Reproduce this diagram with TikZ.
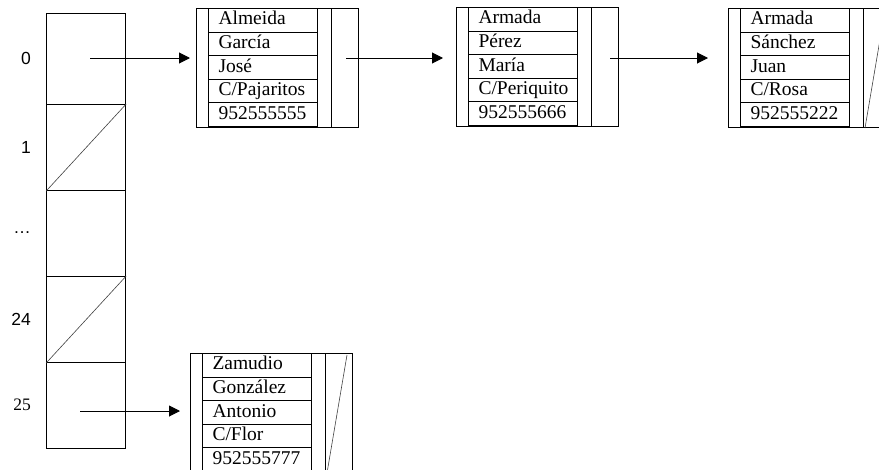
\documentclass[tikz,border=0pt]{standalone}
\usepackage{fontspec}
\setmainfont{Liberation Serif}
\newfontfamily\idxfont{Liberation Sans}
\usetikzlibrary{arrows.meta}

\tikzset{
    cell/.style={draw, line width=1.2pt, minimum width=79pt, anchor=north west, inner sep=0pt},
    idx/.style={anchor=east, inner sep=0pt, font=\idxfont\fontsize{17.5}{17.5}\selectfont},
    rec/.style={draw, line width=1pt, minimum width=162pt, minimum height=119pt, anchor=north west, inner sep=0pt},
    ptr/.style={draw, line width=1pt, minimum width=27pt, minimum height=119pt, anchor=north east, inner sep=0pt},
    field/.style={draw, line width=1pt, text width=89pt, inner xsep=10pt, inner ysep=0pt, minimum height=23.6pt,
        text height=13pt, text depth=4pt, align=left, anchor=north west, font=\fontsize{19.5}{19.5}\selectfont},
    link/.style={line width=1pt, -{Triangle[length=11pt,width=11pt]}},
    null/.style={line width=0.6pt, black!75}
}

\begin{document}
\begin{tikzpicture}[x=1pt, y=-1pt]
            \useasboundingbox (0,0) rectangle (879,469);
            \foreach \i/\ya/\yb/\lab in {0/13/104/0, 1/104/190/1, 2/190/276/{\dots}, 3/276/362/24, 4/362/448/25} {
                \pgfmathsetmacro{\ch}{\yb-\ya}
                \node[cell, minimum height=\ch pt] (c\i) at (46,\ya) {};
                \ifnum \i=4
                    \node[idx] (l\i) at (31,{(\ya+\yb)/2}) {\rmfamily\lab};
                \else
                    \node[idx] (l\i) at (31,{(\ya+\yb)/2}) {\lab};
                \fi
            }
            \foreach \i in {1, 3} {
                \draw[null] (c\i.south west) -- (c\i.north east);
            }
            \foreach \n/\x/\y/\fa/\fb/\fc/\fd/\fe in {
                    1/196/8/Almeida/García/José/{C/Pajaritos}/952555555,
                    2/456/7/Armada/Pérez/María/{C/Periquito}/952555666,
                    3/728/8/Armada/Sánchez/Juan/{C/Rosa}/952555222,
                    4/190/353/Zamudio/González/Antonio/{C/Flor}/952555777} {
                \node[rec] (r\n) at (\x,\y) {};
                \node[ptr] (p\n) at (r\n.north east) {};
                \foreach \txt [count=\k from 0] in {\fa, \fb, \fc, \fd, \fe} {
                    \node[field] (f\n\k) at (\x+12,\y+23.6*\k) {\txt};
                }
            }
            \foreach \n in {3, 4} {
                \draw[null] ([xshift=2pt]p\n.south west) -- ([xshift=-6pt,yshift=-2pt]p\n.north east);
            }
            \coordinate (s0) at (90,58);
            \coordinate (s1) at (346,58);
            \coordinate (s2) at (610,58);
            \coordinate (s4) at (80,411);
            \foreach \s/\tg/\g in {s0/r1/6, s1/r2/13, s2/r3/20, s4/r4/10} {
                \draw[link, shorten >=\g pt] (\s) -- (\s -| \tg.west);
            }
        \end{tikzpicture}
\end{document}
